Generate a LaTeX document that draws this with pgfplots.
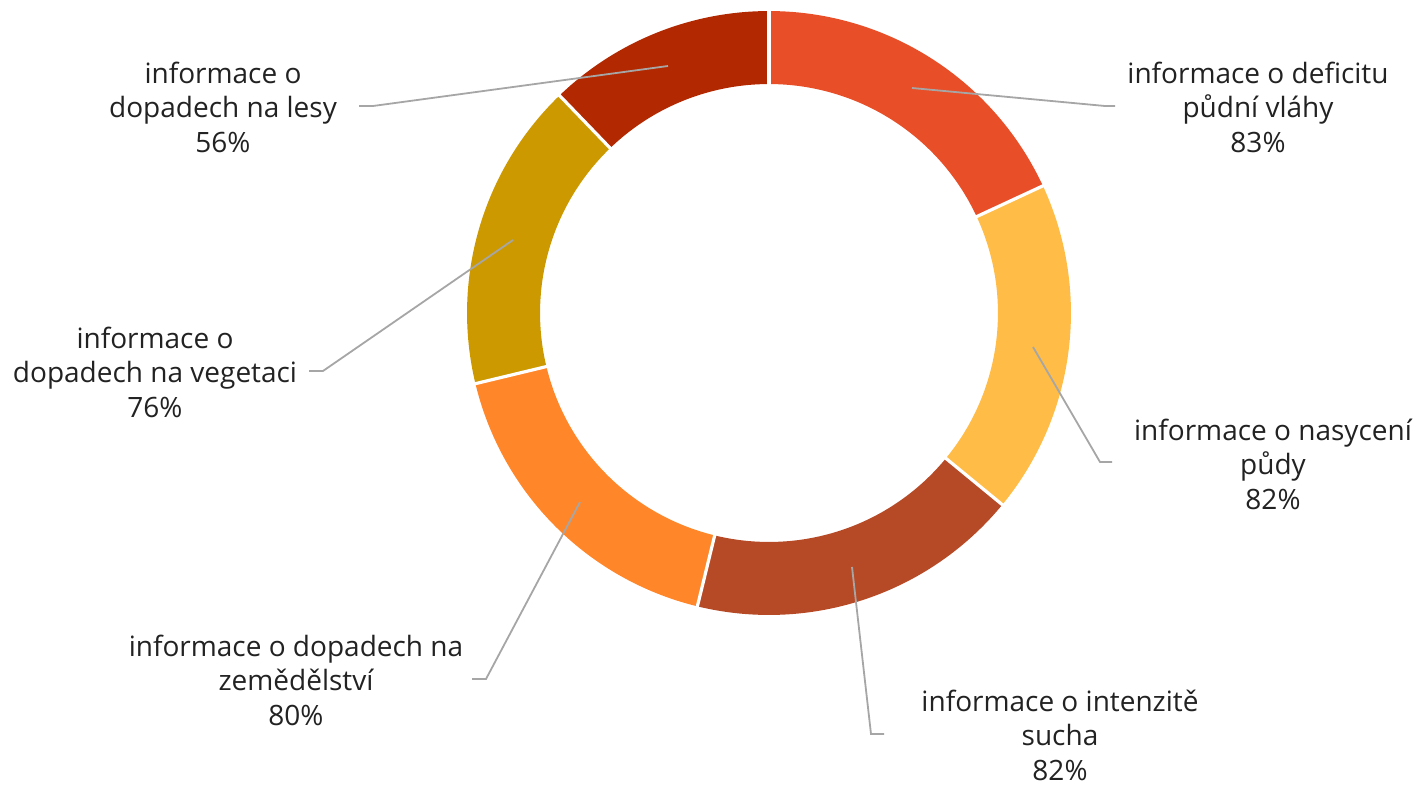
\documentclass[border=0pt]{standalone}
\usepackage{pgfplots}
\pgfplotsset{compat=1.18}
\usepgfplotslibrary{polar}
\usepackage{fontspec}
\setmainfont{Open Sans}

\definecolor{cA}{HTML}{E84E27}
\definecolor{cB}{HTML}{FFBC47}
\definecolor{cC}{HTML}{B64A26}
\definecolor{cD}{HTML}{FF8629}
\definecolor{cE}{HTML}{CC9900}
\definecolor{cF}{HTML}{B22800}
\definecolor{leadgray}{HTML}{A6A6A6}
\definecolor{txt}{HTML}{222222}

% shares (%), clockwise from the top
\def\vA{83}\def\vB{82}\def\vC{82}\def\vD{80}\def\vE{76}\def\vF{56}
\pgfmathsetmacro\tot{\vA+\vB+\vC+\vD+\vE+\vF}
\pgfmathsetmacro\k{360/\tot}
\pgfmathsetmacro\aA{90}
\pgfmathsetmacro\aB{\aA-\k*\vA}
\pgfmathsetmacro\aC{\aB-\k*\vB}
\pgfmathsetmacro\aD{\aC-\k*\vC}
\pgfmathsetmacro\aE{\aD-\k*\vD}
\pgfmathsetmacro\aF{\aE-\k*\vE}
\pgfmathsetmacro\aG{\aF-\k*\vF}

\begin{document}
\begin{tikzpicture}
\begin{scope}[x=0.5pt,y=-0.5pt]
  \path[use as bounding box] (0,0) rectangle (1419,780);
\end{scope}

\begin{polaraxis}[
  at={(384.5pt,-156.5pt)}, anchor=center,
  scale only axis, width=302pt, height=302pt,
  xmin=0, xmax=360, ymin=0, ymax=1,
  hide axis, clip=false,
  ring/.style={line width=36.5pt, samples=90, no marks},
  sep/.style={white, line width=1.6pt, no marks},
]
\addplot[ring, draw=cA, domain=\aB:\aA] {0.879};
\addplot[ring, draw=cB, domain=\aC:\aB] {0.879};
\addplot[ring, draw=cC, domain=\aD:\aC] {0.879};
\addplot[ring, draw=cD, domain=\aE:\aD] {0.879};
\addplot[ring, draw=cE, domain=\aF:\aE] {0.879};
\addplot[ring, draw=cF, domain=\aG:\aF] {0.879};
\addplot[sep] coordinates {(\aA,0.74) (\aA,1.02)};
\addplot[sep] coordinates {(\aB,0.74) (\aB,1.02)};
\addplot[sep] coordinates {(\aC,0.74) (\aC,1.02)};
\addplot[sep] coordinates {(\aD,0.74) (\aD,1.02)};
\addplot[sep] coordinates {(\aE,0.74) (\aE,1.02)};
\addplot[sep] coordinates {(\aF,0.74) (\aF,1.02)};
\end{polaraxis}

\begin{scope}[x=0.5pt,y=-0.5pt,
  lead/.style={draw=leadgray, line width=0.9pt},
  lab/.style={align=center, text=txt, font=\fontsize{14}{17.25}\selectfont}]
  \draw[lead] (912,88) -- (1105,106) -- (1115,106);
  \draw[lead] (1033,347) -- (1100,462) -- (1112,462);
  \draw[lead] (852,567) -- (871,734) -- (884,734);
  \draw[lead] (580,502) -- (486,679) -- (472,679);
  \draw[lead] (513,240) -- (323,371) -- (309,371);
  \draw[lead] (668,66) -- (373,106) -- (359,106);

  \node[lab] at (1258,107) {informace o deficitu\\půdní vláhy\\\vA\%};
  \node[lab] at (1273,464) {informace o nasycení\\půdy\\\vB\%};
  \node[lab] at (1060,735) {informace o intenzitě\\sucha\\\vC\%};
  \node[lab] at (296,680) {informace o dopadech na\\zemědělství\\\vD\%};
  \node[lab] at (155,372) {informace o\\dopadech na vegetaci\\\vE\%};
  \node[lab] at (223,107) {informace o\\dopadech na lesy\\\vF\%};
\end{scope}
\end{tikzpicture}
\end{document}
